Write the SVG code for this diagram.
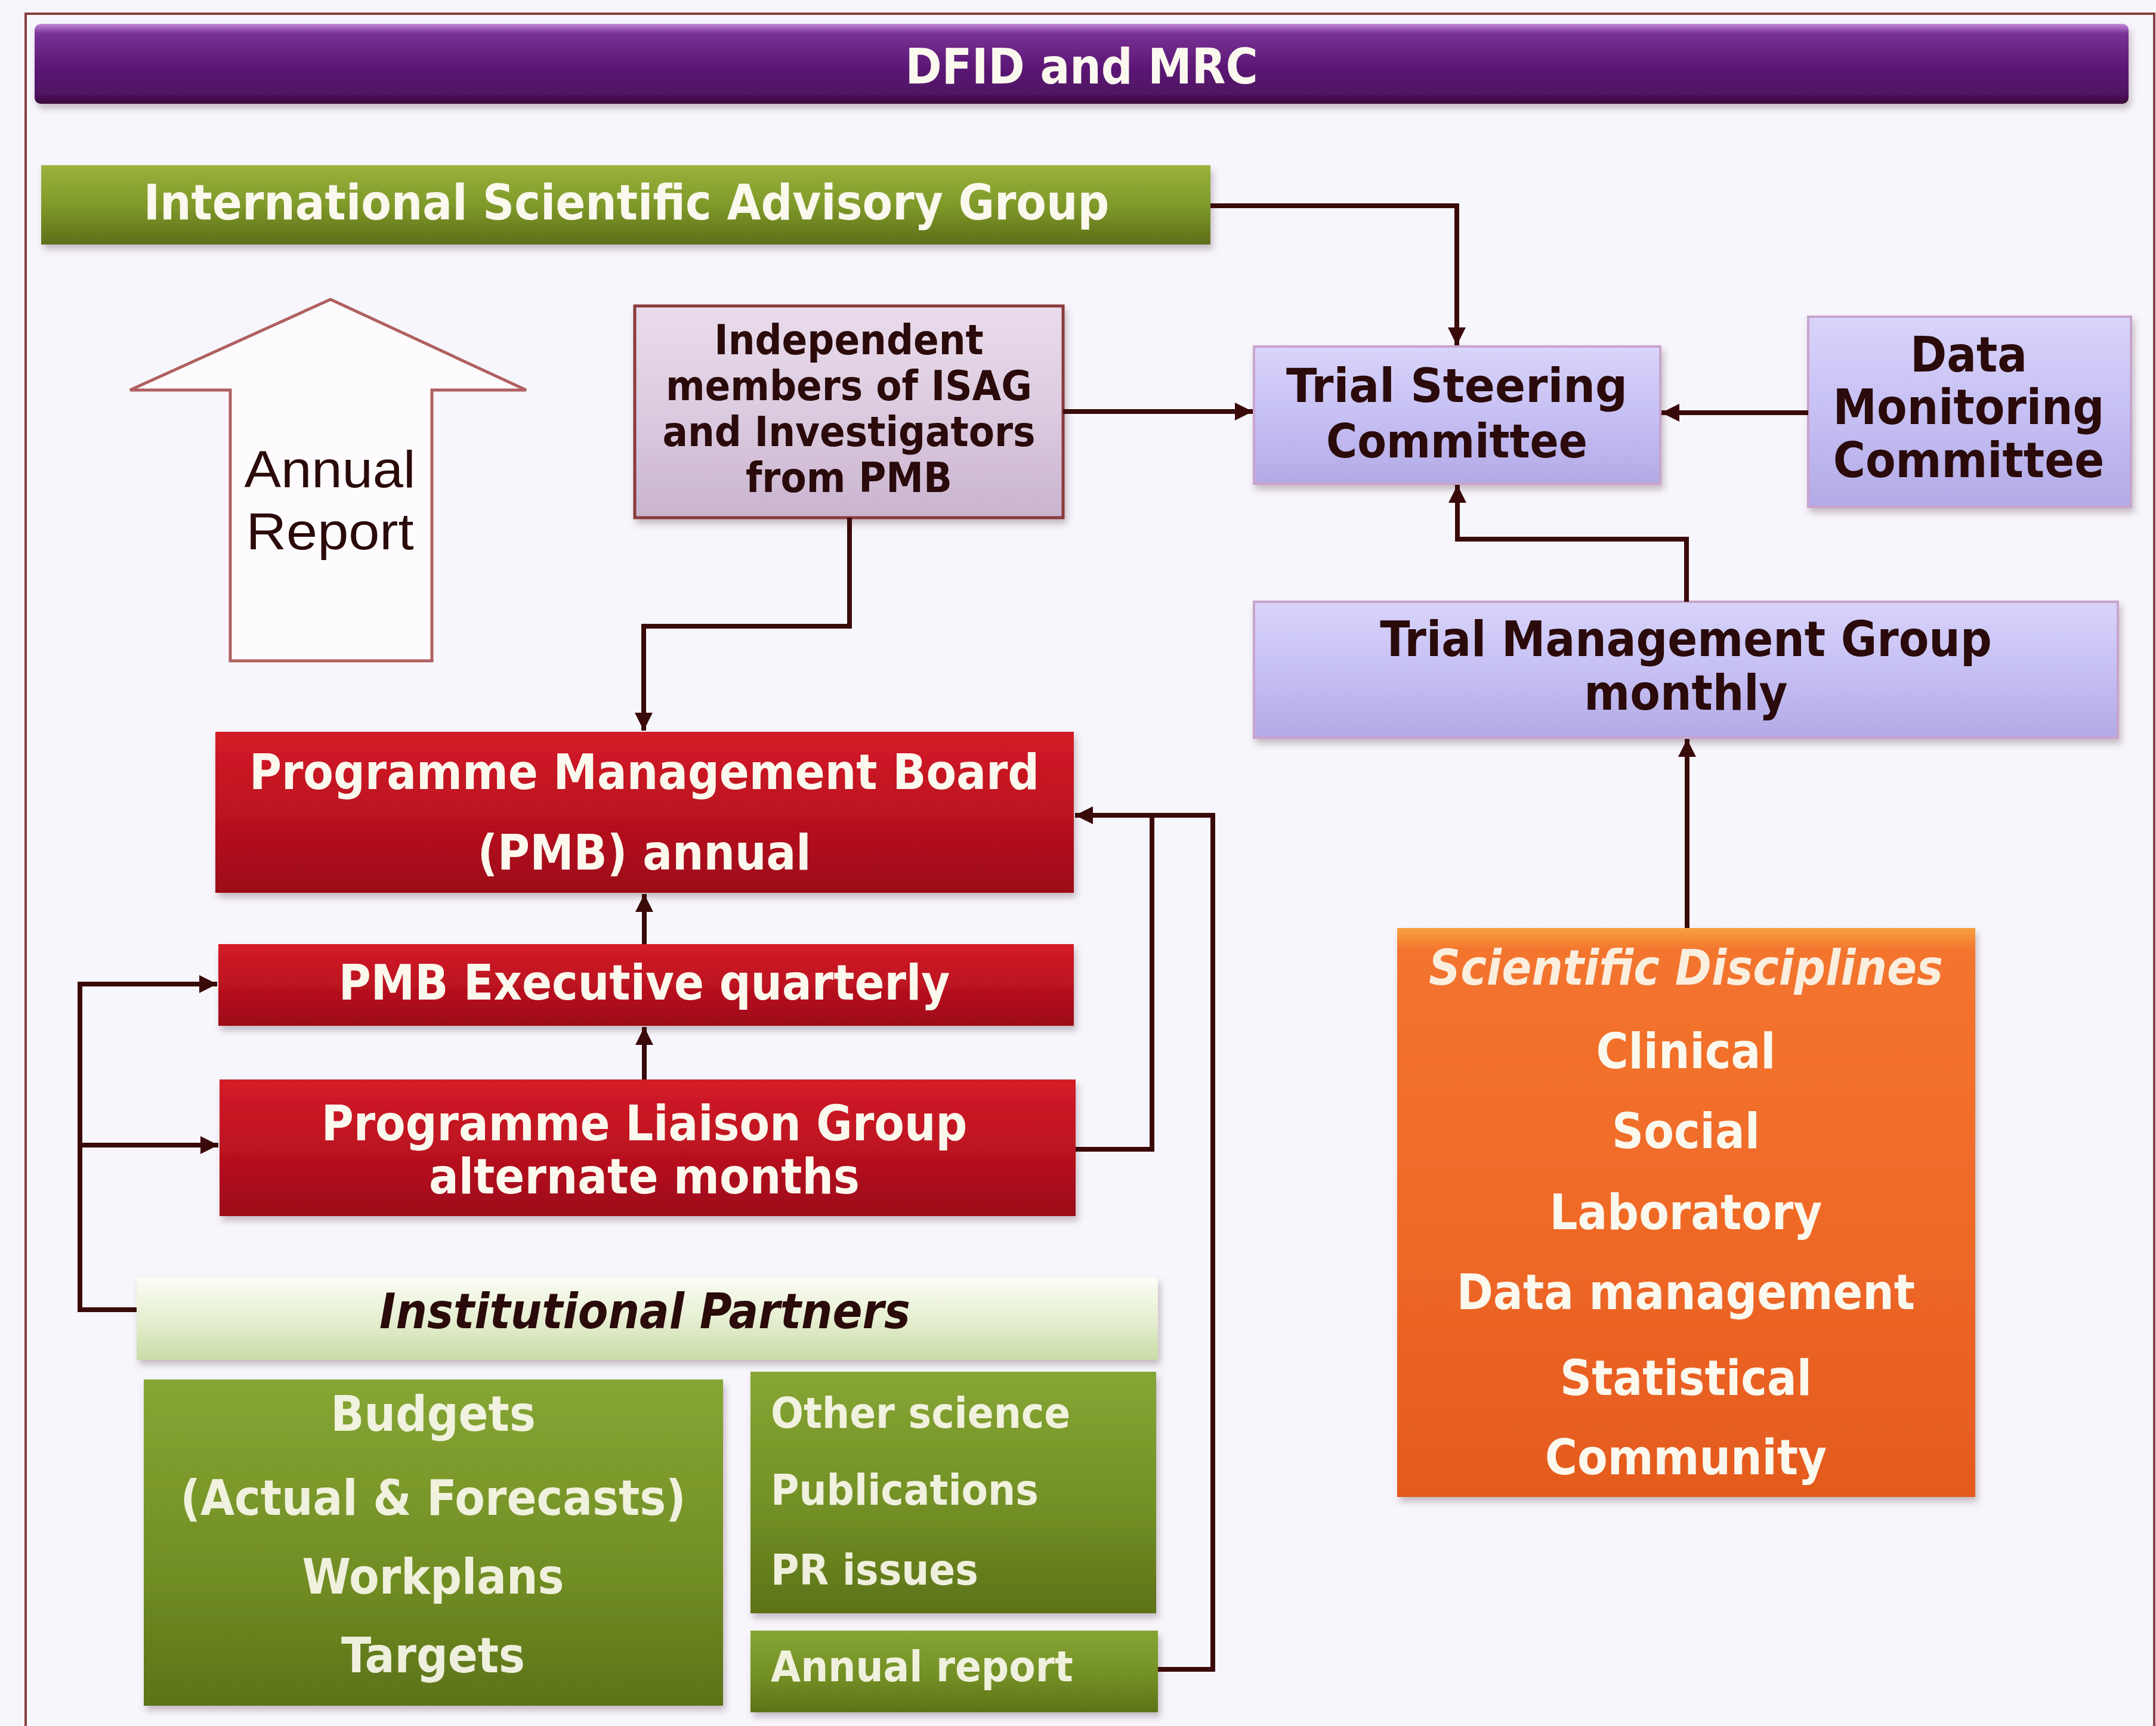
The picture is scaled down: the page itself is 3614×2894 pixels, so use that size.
<svg xmlns="http://www.w3.org/2000/svg" width="3614" height="2894" viewBox="0 0 3614 2894">
<defs>
<linearGradient id="gPurple" x1="0" y1="0" x2="0" y2="1">
<stop offset="0" stop-color="#c48ad8"/><stop offset="0.12" stop-color="#7a3296"/><stop offset="0.5" stop-color="#5e1a78"/><stop offset="0.88" stop-color="#4e1262"/><stop offset="1" stop-color="#3a0c36"/>
</linearGradient>
<linearGradient id="gOlive" x1="0" y1="0" x2="0" y2="1">
<stop offset="0" stop-color="#9ab23c"/><stop offset="0.5" stop-color="#7f9a2a"/><stop offset="1" stop-color="#5e6e1a"/>
</linearGradient>
<linearGradient id="gGreen" x1="0" y1="0" x2="0" y2="1">
<stop offset="0" stop-color="#86a634"/><stop offset="0.6" stop-color="#718e24"/><stop offset="1" stop-color="#5c7218"/>
</linearGradient>
<linearGradient id="gPale" x1="0" y1="0" x2="0" y2="1">
<stop offset="0" stop-color="#fbfdf4"/><stop offset="0.5" stop-color="#e6efd2"/><stop offset="1" stop-color="#c9dca6"/>
</linearGradient>
<linearGradient id="gRed" x1="0" y1="0" x2="0" y2="1">
<stop offset="0" stop-color="#d41c28"/><stop offset="0.5" stop-color="#bc1220"/><stop offset="1" stop-color="#9c0c18"/>
</linearGradient>
<linearGradient id="gLav" x1="0" y1="0" x2="0" y2="1">
<stop offset="0" stop-color="#d8d4fa"/><stop offset="0.5" stop-color="#c6c0f4"/><stop offset="1" stop-color="#b2aae6"/>
</linearGradient>
<linearGradient id="gPink" x1="0" y1="0" x2="0" y2="1">
<stop offset="0" stop-color="#eadcec"/><stop offset="0.5" stop-color="#dccbe0"/><stop offset="1" stop-color="#c9b4cf"/>
</linearGradient>
<linearGradient id="gOrange" x1="0" y1="0" x2="0" y2="1">
<stop offset="0" stop-color="#f7a040"/><stop offset="0.04" stop-color="#f3742e"/><stop offset="0.5" stop-color="#f06a28"/><stop offset="1" stop-color="#e45a1e"/>
</linearGradient>
<filter id="sh" x="-5%" y="-10%" width="110%" height="125%">
<feDropShadow dx="4" dy="8" stdDeviation="6" flood-color="#6a4a5a" flood-opacity="0.35"/>
</filter>
<marker id="ah" viewBox="0 0 10 10" refX="10" refY="5" markerWidth="34" markerHeight="30" markerUnits="userSpaceOnUse" orient="auto">
<path d="M0,0 L10,5 L0,10 Z" fill="#3a0a0a"/>
</marker>
<style>
.t{font-family:"DejaVu Sans Condensed","DejaVu Sans",sans-serif;font-stretch:condensed;font-weight:bold;text-anchor:middle}
.w{fill:#fbf8ee}
.k{fill:#2a0a0a}
.f82{font-size:82px}
.f79{font-size:79px}
.f72{font-size:72px}
.f70{font-size:70px}
.it{font-style:italic}
.l{text-anchor:start}
.c{fill:none;stroke:#3a0a0a;stroke-width:8}
</style>
</defs>
<rect x="0" y="0" width="3614" height="2894" fill="#f7f6fc"/>
<path d="M43,2894 V23 H3611 V2894" fill="none" stroke="#8a4040" stroke-width="4"/>

<g id="dfid">
<rect x="58" y="40" width="3510" height="134" rx="10" fill="url(#gPurple)" filter="url(#sh)"/>
<text class="t w f82" x="1813" y="140">DFID and MRC</text>
</g>

<g id="isag">
<rect x="69" y="277" width="1960" height="133" fill="url(#gOlive)" filter="url(#sh)"/>
<text class="t w f82" x="1050" y="368">International Scientific Advisory Group</text>
</g>

<g id="annual-arrow">
<path d="M554,502 L882,654 L724,654 L724,1108 L386,1108 L386,654 L218,654 Z" fill="#fdfbfd" stroke="#b06060" stroke-width="5"/>
<text x="553" y="817" font-family="Liberation Sans, Arial, sans-serif" font-size="88" fill="#2a0a0a" text-anchor="middle" textLength="287" lengthAdjust="spacingAndGlyphs">Annual</text>
<text x="553" y="921" font-family="Liberation Sans, Arial, sans-serif" font-size="88" fill="#2a0a0a" text-anchor="middle" textLength="281" lengthAdjust="spacingAndGlyphs">Report</text>
</g>

<g id="independent">
<rect x="1064" y="513" width="718" height="355" fill="url(#gPink)" stroke="#8a3a3a" stroke-width="5" filter="url(#sh)"/>
<text class="t k f70" x="1423" y="594">Independent</text>
<text class="t k f70" x="1423" y="671">members of ISAG</text>
<text class="t k f70" x="1423" y="748">and Investigators</text>
<text class="t k f70" x="1423" y="825">from PMB</text>
</g>

<g id="tsc">
<rect x="2102" y="581" width="681" height="230" fill="url(#gLav)" stroke="#c8a4cc" stroke-width="4" filter="url(#sh)"/>
<text class="t k f79" x="2442" y="674" textLength="572" lengthAdjust="spacingAndGlyphs">Trial Steering</text>
<text class="t k f79" x="2442" y="767">Committee</text>
</g>

<g id="dmc">
<rect x="3031" y="531" width="541" height="319" fill="url(#gLav)" stroke="#c8a4cc" stroke-width="4" filter="url(#sh)"/>
<text class="t k f82" x="3300" y="623">Data</text>
<text class="t k f82" x="3300" y="711">Monitoring</text>
<text class="t k f82" x="3300" y="800">Committee</text>
</g>

<g id="tmg">
<rect x="2102" y="1009" width="1448" height="228" fill="url(#gLav)" stroke="#c8a4cc" stroke-width="4" filter="url(#sh)"/>
<text class="t k f82" x="2826" y="1100">Trial Management Group</text>
<text class="t k f82" x="2826" y="1190">monthly</text>
</g>

<g id="sci">
<rect x="2342" y="1556" width="969" height="954" fill="url(#gOrange)" filter="url(#sh)"/>
<text class="t w f82 it" x="2826" y="1651" fill-opacity="0.92">Scientific Disciplines</text>
<text class="t w f82" x="2826" y="1791">Clinical</text>
<text class="t w f82" x="2826" y="1925">Social</text>
<text class="t w f82" x="2826" y="2061">Laboratory</text>
<text class="t w f82" x="2826" y="2195">Data management</text>
<text class="t w f82" x="2826" y="2339">Statistical</text>
<text class="t w f82" x="2826" y="2472">Community</text>
</g>

<g id="pmb">
<rect x="361" y="1227" width="1439" height="270" fill="url(#gRed)" filter="url(#sh)"/>
<text class="t w f82" x="1080" y="1323">Programme Management Board</text>
<text class="t w f82" x="1080" y="1458">(PMB) annual</text>
</g>

<g id="exec">
<rect x="366" y="1583" width="1434" height="137" fill="url(#gRed)" filter="url(#sh)"/>
<text class="t w f82" x="1080" y="1676">PMB Executive quarterly</text>
</g>

<g id="plg">
<rect x="368" y="1810" width="1435" height="229" fill="url(#gRed)" filter="url(#sh)"/>
<text class="t w f82" x="1080" y="1912">Programme Liaison Group</text>
<text class="t w f82" x="1080" y="2001">alternate months</text>
</g>

<g id="institutional">
<rect x="229" y="2142" width="1712" height="138" fill="url(#gPale)" filter="url(#sh)"/>
<text class="t k f82 it" x="1081" y="2227">Institutional Partners</text>
</g>

<g id="budgets">
<rect x="241" y="2313" width="971" height="547" fill="url(#gGreen)" filter="url(#sh)"/>
<text class="t w f82" x="726" y="2399" fill-opacity="0.92">Budgets</text>
<text class="t w f82" x="726" y="2540" fill-opacity="0.92">(Actual &amp; Forecasts)</text>
<text class="t w f82" x="726" y="2672" fill-opacity="0.92">Workplans</text>
<text class="t w f82" x="726" y="2804" fill-opacity="0.92">Targets</text>
</g>

<g id="other">
<rect x="1258" y="2300" width="680" height="405" fill="url(#gGreen)" filter="url(#sh)"/>
<text class="t w f72 l" x="1292" y="2394" fill-opacity="0.92">Other science</text>
<text class="t w f72 l" x="1292" y="2523" fill-opacity="0.92">Publications</text>
<text class="t w f72 l" x="1292" y="2657" fill-opacity="0.92">PR issues</text>
</g>

<g id="annual-report">
<rect x="1258" y="2734" width="683" height="137" fill="url(#gGreen)" filter="url(#sh)"/>
<text class="t w f72 l" x="1292" y="2819" fill-opacity="0.92">Annual report</text>
</g>

<g id="connectors">
<path class="c" d="M2029,345 H2442 V579" marker-end="url(#ah)"/>
<path class="c" d="M1782,690 H2100" marker-end="url(#ah)"/>
<path class="c" d="M3031,692 H2785" marker-end="url(#ah)"/>
<path class="c" d="M2827,1009 V904 H2443 V813" marker-end="url(#ah)"/>
<path class="c" d="M2828,1556 V1239" marker-end="url(#ah)"/>
<path class="c" d="M1424,868 V1050 H1079 V1225" marker-end="url(#ah)"/>
<path class="c" d="M1080,1583 V1499" marker-end="url(#ah)"/>
<path class="c" d="M1080,1810 V1722" marker-end="url(#ah)"/>
<path class="c" d="M229,2196 H134 V1650 H364" marker-end="url(#ah)"/>
<path class="c" d="M134,1920 H366" marker-end="url(#ah)"/>
<path class="c" d="M1803,1927 H1931 V1367"/>
<path class="c" d="M1941,2799 H2033 V1367 H1802" marker-end="url(#ah)"/>
</g>
</svg>
